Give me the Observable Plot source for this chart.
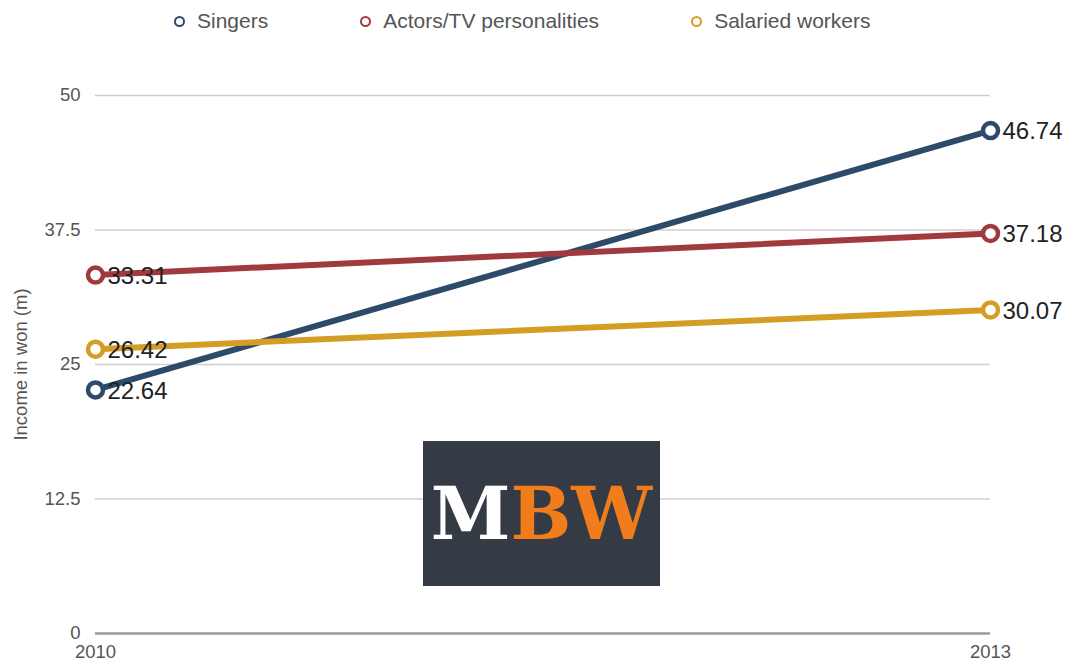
<!DOCTYPE html>
<html><head><meta charset="utf-8">
<script src="https://cdn.jsdelivr.net/npm/d3@7"></script>
<script src="https://cdn.jsdelivr.net/npm/@observablehq/plot@0.6"></script>
<style>
body{margin:0;background:#fff;font-family:"Liberation Sans",Arial,sans-serif;}
#wrap{position:relative;width:1074px;height:663px;overflow:hidden;}
#legend{height:42px;display:flex;align-items:center;gap:92px;padding-left:174px;box-sizing:border-box;}
.item{display:flex;align-items:center;font-size:21px;color:#555;white-space:nowrap;}
.dot{width:7px;height:7px;border-radius:50%;border:2.5px solid;background:#fff;margin-right:12px;}
#logo{position:absolute;left:423px;top:441px;width:237px;height:145px;background:#353b44;display:flex;align-items:center;justify-content:center;font-family:"DejaVu Serif",serif;font-weight:bold;font-size:72px;line-height:1;}
</style></head>
<body><div id="wrap"><div id="legend"></div><div id="chart"></div><div id="logo"><span style="color:#fff">M</span><span style="color:#f07c1c">BW</span></div></div>
<script>
const years = [2010, 2013];
const series = ["Singers", "Actors/TV personalities", "Salaried workers"];
const singers = [22.64, 46.74];
const actors = [33.31, 37.18];
const salaried = [26.42, 30.07];
const colors = ["#2d4a69", "#a13a3e", "#d49d26"];
const yTicks = [0, 12.5, 25, 37.5, 50];
const yLabel = "Income in won (m)";

const valuesBySeries = [singers, actors, salaried];
const data = series.flatMap((s, si) => years.map((yr, i) => ({series: s, year: yr, value: valuesBySeries[si][i]})));

const legend = document.getElementById("legend");
series.forEach((s, i) => {
  const item = document.createElement("div");
  item.className = "item";
  const d = document.createElement("span");
  d.className = "dot";
  d.style.borderColor = colors[i];
  item.appendChild(d);
  item.appendChild(document.createTextNode(s));
  legend.appendChild(item);
});

const chart = Plot.plot({
  width: 1074,
  height: 621,
  marginTop: 53,
  marginBottom: 30,
  marginLeft: 95,
  marginRight: 84,
  style: {fontFamily: "'Liberation Sans', Arial, sans-serif", fontSize: "18.5px", color: "#555", background: "#fff"},
  x: {domain: [years[0], years[years.length - 1]], ticks: years, tickFormat: "d", tickSize: 0, tickPadding: 11, label: null},
  y: {domain: [0, 50], ticks: yTicks, tickFormat: d => String(d), tickSize: 0, tickPadding: 15, label: yLabel, labelAnchor: "center", labelArrow: "none", labelOffset: 82},
  color: {domain: series, range: colors},
  marks: [
    Plot.ruleY(yTicks.filter(d => d > 0), {stroke: "#cfcfcf", strokeWidth: 1.3}),
    Plot.ruleY([0], {stroke: "#9a9a9a", strokeWidth: 2.5}),
    Plot.line(data, {x: "year", y: "value", z: "series", stroke: "series", strokeWidth: 6}),
    Plot.dot(data, {x: "year", y: "value", stroke: "series", fill: "white", r: 7.5, strokeWidth: 4.5}),
    Plot.text(data, {x: "year", y: "value", text: d => d.value.toFixed(2), dx: 12, dy: 1, textAnchor: "start", fontSize: 24, fill: "#222"})
  ]
});
document.getElementById("chart").appendChild(chart);
</script>
</body></html>
